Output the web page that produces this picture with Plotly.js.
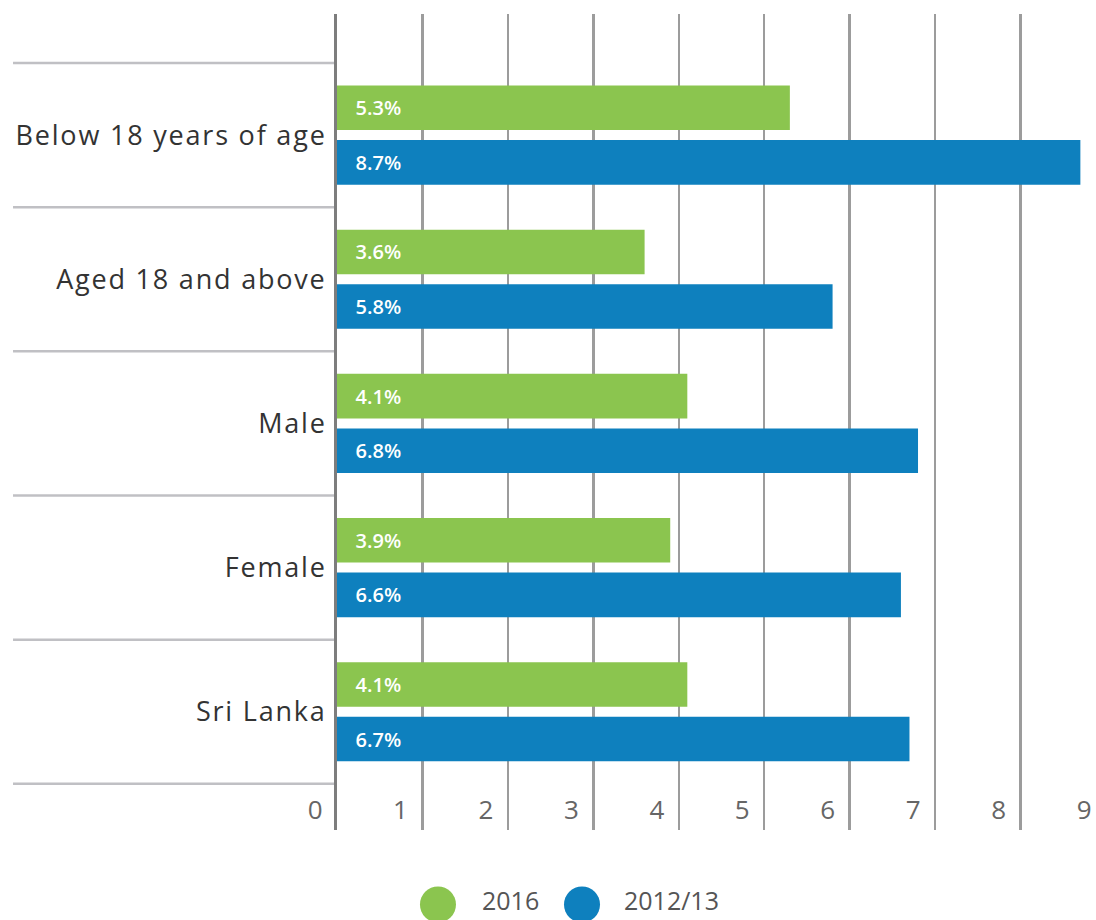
<!DOCTYPE html>
<html>
<head>
<meta charset="utf-8">
<script src="https://cdn.plot.ly/plotly-3.0.1.min.js"></script>
<style>
html,body{margin:0;padding:0;overflow:hidden;background:#fff;}
#chart{width:1130px;height:920px;}
#chart .ytick text{letter-spacing:1.8px;}
#chart .xtick text{letter-spacing:0.5px;}
</style>
</head>
<body>
<div id="chart"></div>
<script>
// Data (top to bottom)
var categories = ["Below 18 years of age", "Aged 18 and above", "Male", "Female", "Sri Lanka"];
var values2016 = [5.3, 3.6, 4.1, 3.9, 4.1];
var values2012 = [8.7, 5.8, 6.8, 6.6, 6.7];
var seriesNames = ["2016", "2012/13"];
var seriesColors = ["#8bc54f", "#0e80be"];
var xTicks = [0, 1, 2, 3, 4, 5, 6, 7, 8, 9];

var FONT = "Open Sans, Lato, sans-serif";
var labelTpl = "\u00a0\u00a0\u00a0%{x:.1f}%";

var traces = [
  {type: "bar", orientation: "h", name: seriesNames[0], y: categories, x: values2016,
   marker: {color: seriesColors[0]}, texttemplate: labelTpl, textposition: "inside",
   insidetextanchor: "start", textfont: {color: "#ffffff", size: 20, family: FONT, weight: 600},
   showlegend: false, hoverinfo: "x+y"},
  {type: "bar", orientation: "h", name: seriesNames[1], y: categories, x: values2012,
   marker: {color: seriesColors[1]}, texttemplate: labelTpl, textposition: "inside",
   insidetextanchor: "start", textfont: {color: "#ffffff", size: 20, family: FONT, weight: 600},
   showlegend: false, hoverinfo: "x+y"}
];

var n = categories.length;
var shapes = [];
for (var i = 0; i <= n; i++) {
  shapes.push({type: "line", xref: "paper", yref: "y", x0: -0.4213, x1: -0.003,
    y0: i - 0.5, y1: i - 0.5, line: {color: "#c0c0c4", width: 2.5}, layer: "below"});
}
// custom legend
var legX = [0.1313, 0.3186];
var legTextX = [0.186, 0.3706];
var annotations = [];
for (var k = 0; k < seriesNames.length; k++) {
  shapes.push({type: "circle", xref: "paper", yref: "paper", xsizemode: "pixel", ysizemode: "pixel",
    xanchor: legX[k], yanchor: -0.0913, x0: -18, x1: 18, y0: -18, y1: 18,
    fillcolor: seriesColors[k], line: {width: 0}});
  annotations.push({xref: "paper", yref: "paper", x: legTextX[k], y: -0.0863, xanchor: "left",
    yanchor: "middle", text: seriesNames[k], showarrow: false,
    font: {family: FONT, size: 25, color: "#555555"}});
}

var layout = {
  width: 1130, height: 920,
  margin: {l: 337, r: 24, t: 14, b: 90},
  paper_bgcolor: "#ffffff", plot_bgcolor: "#ffffff",
  barmode: "group", bargap: 0.243, bargroupgap: 0.183,
  showlegend: false,
  xaxis: {
    range: [0, 9], tickvals: xTicks, ticktext: xTicks.map(String),
    showgrid: true, gridcolor: "#9c9c9c", gridwidth: 2.5,
    zeroline: false, showline: false, ticks: "",
    ticklabelposition: "inside left", ticklabeloverflow: "allow", ticklabelshift: -14,
    tickfont: {family: FONT, size: 26, color: "#666666"},
    fixedrange: true
  },
  yaxis: {
    type: "category", categoryorder: "array", categoryarray: categories,
    range: [n - 0.5 + 0.32, -0.5 - 0.34],
    showgrid: false, zeroline: false,
    showline: true, linecolor: "#7d7d7d", linewidth: 3,
    ticks: "", ticklabelstandoff: 2,
    tickfont: {family: FONT, size: 27, color: "#333333"},
    fixedrange: true
  },
  shapes: shapes,
  annotations: annotations
};

Plotly.newPlot("chart", traces, layout, {displayModeBar: false, staticPlot: true});
</script>
</body>
</html>
